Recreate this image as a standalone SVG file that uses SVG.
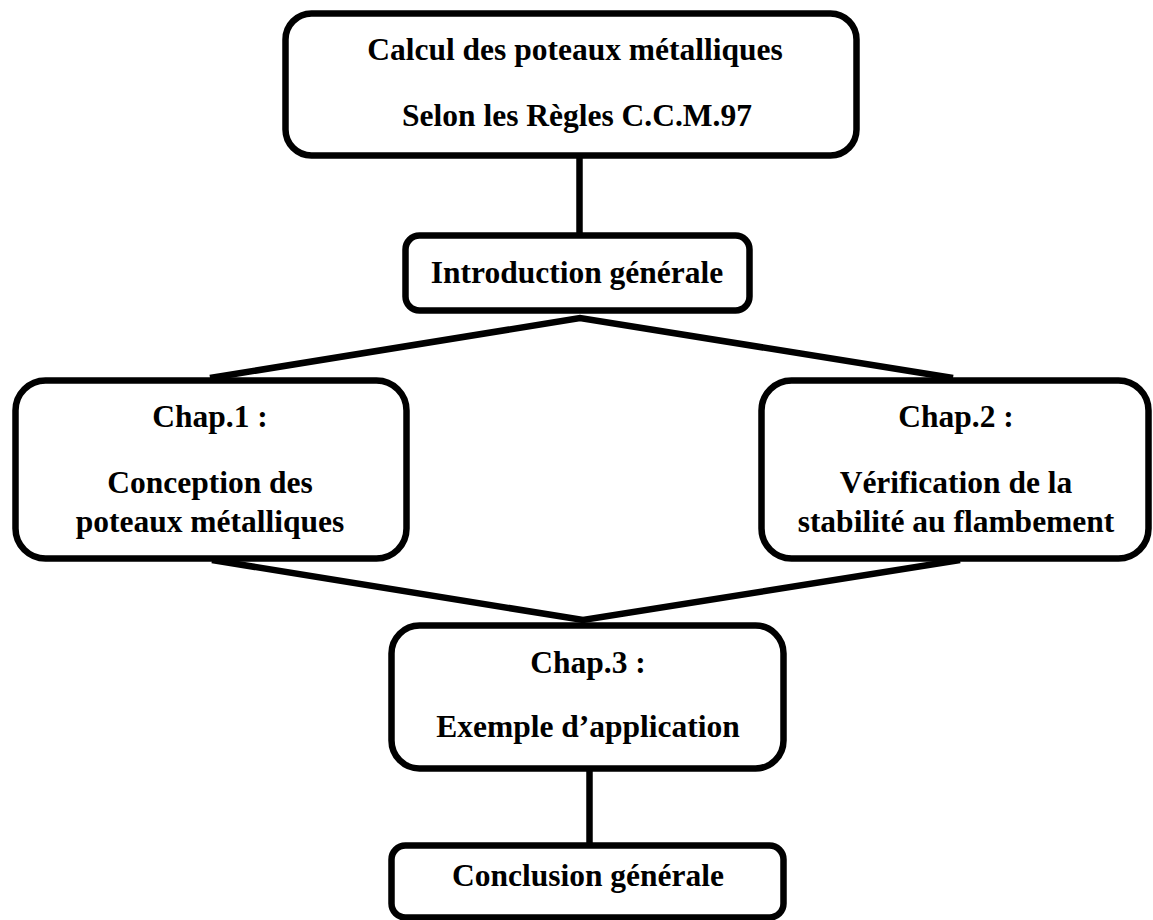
<svg xmlns="http://www.w3.org/2000/svg" width="1153" height="920" viewBox="0 0 1153 920">
<style>
.box{fill:#fff;stroke:#000;stroke-width:6.5}
.ln{stroke:#000;stroke-width:6.5;fill:none}
text{font-family:"Liberation Serif","Times New Roman",serif;font-weight:bold;font-size:31.5px;text-anchor:middle;fill:#000}
</style>
<rect width="1153" height="920" fill="#fff"/>
<g id="connectors">
<line class="ln" x1="579.5" y1="157" x2="579.5" y2="236"/>
<polyline class="ln" points="210,378 580,318 953,378"/>
<polyline class="ln" points="212,560 583,620 960,560"/>
<line class="ln" x1="589.5" y1="770" x2="589.5" y2="846"/>
</g>
<g id="n-title">
<rect class="box" x="285.5" y="13.5" width="571" height="142" rx="26"/>
<text x="575" y="60">Calcul des poteaux métalliques</text>
<text x="577" y="126">Selon les Règles C.C.M.97</text>
</g>
<g id="n-intro">
<rect class="box" x="405.5" y="235.5" width="344" height="75" rx="14"/>
<text x="577" y="283">Introduction générale</text>
</g>
<g id="n-chap1">
<rect class="box" x="15.5" y="380.5" width="391" height="178" rx="30"/>
<text x="210" y="427">Chap.1 :</text>
<text x="210" y="493">Conception des</text>
<text x="210" y="532">poteaux métalliques</text>
</g>
<g id="n-chap2">
<rect class="box" x="761.5" y="380.5" width="387" height="178" rx="30"/>
<text x="956" y="427">Chap.2 :</text>
<text x="956" y="493">Vérification de la</text>
<text x="956" y="532">stabilité au flambement</text>
</g>
<g id="n-chap3">
<rect class="box" x="391.5" y="625.5" width="392" height="143" rx="28"/>
<text x="588" y="673">Chap.3 :</text>
<text x="588" y="737">Exemple d’application</text>
</g>
<g id="n-conclusion">
<rect class="box" x="391.5" y="845.5" width="392" height="72" rx="14"/>
<text x="588" y="886">Conclusion générale</text>
</g>
</svg>
